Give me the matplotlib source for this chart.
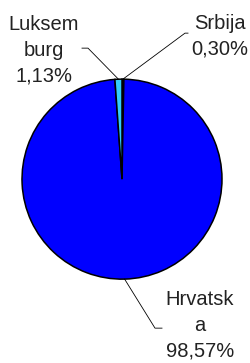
import numpy as np
import matplotlib.pyplot as plt

plt.rcParams['font.family'] = ['Liberation Sans', 'DejaVu Sans']

labels = ["Srbija\n0,30%", "Hrvatsk\na\n98,57%", "Luksem\nburg\n1,13%"]
values = [0.30, 98.57, 1.13]
colors = ["#000000", "#0000FF", "#33CCFF"]

# elbow, line end and text centre for each label (data units, radius 1)
elbows = [(0.63, 1.46), (0.33, -1.49), (-0.34, 1.31)]
ends = [(0.66, 1.46), (0.40, -1.49), (-0.40, 1.31)]
texts = [(0.98, 1.43), (0.78, -1.46), (-0.78, 1.29)]

fig = plt.figure(figsize=(2.5, 3.63), dpi=100)
ax = fig.add_axes([0.088, 0.231, 0.8, 0.551])
wedges, _ = ax.pie(values, colors=colors, startangle=90, counterclock=False,
                   wedgeprops=dict(edgecolor="black", linewidth=1.1))
ax.set_xlim(-1, 1)
ax.set_ylim(-1, 1)
ax.set_aspect("equal")
ax.axis("off")

for w, lab, el, en, tx in zip(wedges, labels, elbows, ends, texts):
    ang = np.deg2rad((w.theta1 + w.theta2) / 2)
    x0, y0 = np.cos(ang), np.sin(ang)
    ax.plot([x0, el[0], en[0]], [y0, el[1], en[1]], color="black", lw=0.6,
            clip_on=False)
    ax.text(tx[0], tx[1], lab, ha="center", va="center", fontsize=14.5,
            linespacing=1.45, color="#222222", clip_on=False)

fig.savefig("out.png", dpi=100)
